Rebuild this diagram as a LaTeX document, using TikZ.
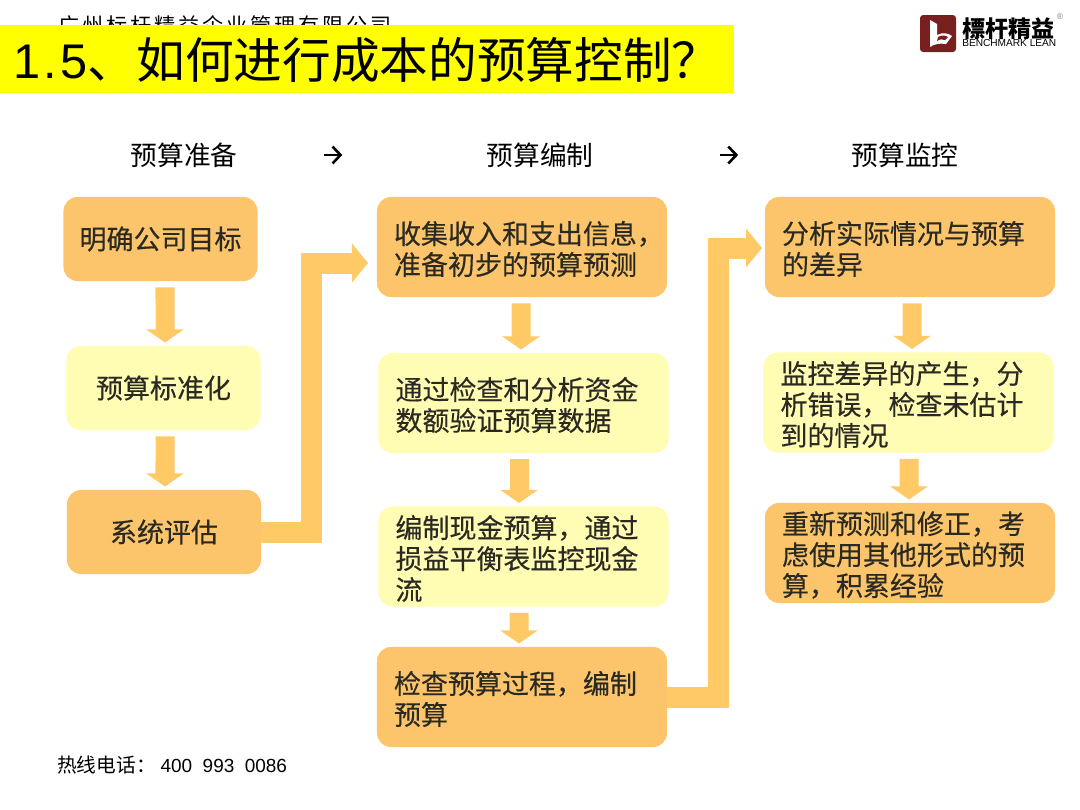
\documentclass[tikz,border=0pt]{standalone}
\usepackage{fontspec}
\usepackage{xcolor}
\usetikzlibrary{arrows.meta}
\setmainfont{Noto Sans CJK SC}
\newfontfamily\boxfont[FakeBold=0.3]{Noto Sans CJK SC}
\newfontfamily\spacedfont[LetterSpace=14]{Noto Sans CJK SC}
\newfontfamily\latinfont{Liberation Sans}
\definecolor{boxorange}{HTML}{FDC56B}
\definecolor{boxpale}{HTML}{FFFCB4}
\definecolor{arroworange}{HTML}{FFC966}
\definecolor{bandyellow}{HTML}{FFFF00}
\definecolor{logored}{HTML}{7A1F1F}
\definecolor{inktext}{HTML}{2B2A22}
\tikzset{
    flowbox/.style={rounded corners=0.35cm, inner sep=0pt, text=inktext, font=\boxfont\fontsize{19.2}{22}\selectfont, align=left},
    wide/.style={flowbox, minimum width=7.25cm, minimum height=2.5cm, text width=6.4cm, execute at end node=\vspace{-2.8pt}},
    narrow/.style={flowbox, minimum width=4.85cm, minimum height=2.1cm, align=center},
    headtext/.style={font=\fontsize{19}{22}\selectfont, text=black},
    headarrow/.style={draw=black, line width=0.065cm, -{Straight Barb[length=0.2cm, width=0.42cm]}},
    downarrow/.style={draw=arroworange, line width=0.475cm, -{Triangle[length=0.33cm, width=0.93cm]}, shorten <=0.15cm, shorten >=0.08cm},
    elbowarrow/.style={draw=arroworange, line width=0.525cm, line join=miter, -{Triangle[length=0.4cm, width=0.95cm]}},
}
\begin{document}
\begin{tikzpicture}[x=0.025cm, y=-0.025cm]
    \useasboundingbox (0,0) rectangle (1080,810);

    % header band
    \node[anchor=west, inner sep=0pt, font=\spacedfont\fontsize{15}{18}\selectfont] (company) at (58,25) {广州标杆精益企业管理有限公司};
    \fill[bandyellow] (0,25) rectangle (734,93);
    \node[anchor=west, inner sep=0pt, font=\fontsize{34.6}{36}\selectfont] (title) at (13,60) {{\latinfont 1\kern2.5pt.\kern2.5pt5}、如何进行成本的预算控制？};

    % logo
    \fill[logored, rounded corners=0.08cm] (920,15) rectangle (956,52);
    \fill[white] (930,20) -- (937,24) -- (937,35) .. controls (943,32) and (948,33) .. (952,36) -- (946,44) .. controls (940,43) and (934,44) .. (930,47) -- cycle;
    \fill[logored] (938,37) .. controls (942,35) and (945,35) .. (948,37) -- (945,40) .. controls (942,39) and (940,39) .. (937,41) -- cycle;
    \node[anchor=west, inner sep=0pt, font=\bfseries\fontsize{16.4}{18}\selectfont, text=black] (logocn) at (962,29) {標杆精益};
    \node[anchor=west, inner sep=0pt, font=\latinfont\fontsize{7.2}{8}\selectfont, text=black] (logoen) at (962,43.5) {BENCHMARK LEAN};
    \node[inner sep=0pt, font=\latinfont\fontsize{6}{6}\selectfont, text=gray] (logoreg) at (1060,17) {®};

    % column heads
    \node[headtext] (headprep) at (184,155) {预算准备};
    \node[headtext] (headedit) at (540,155) {预算编制};
    \node[headtext] (headmon) at (905,155) {预算监控};
    \draw[headarrow, shorten <=2.03cm, shorten >=3.48cm] (headprep) -- (headedit);
    \draw[headarrow, shorten <=3.03cm, shorten >=2.71cm] (headedit) -- (headmon);

    % left column
    \node[narrow, fill=boxorange] (goal) at (160.5,239) {明确公司目标};
    \node[narrow, fill=boxpale] (norm) at (163.5,388) {预算标准化};
    \node[narrow, fill=boxorange] (review) at (164,532) {系统评估};

    % middle column
    \node[wide, fill=boxorange] (collect) at (522,247) {收集收入和支出信息，\\准备初步的预算预测};
    \node[wide, fill=boxpale] (verify) at (523.5,403) {通过检查和分析资金\\数额验证预算数据};
    \node[wide, fill=boxpale] (cash) at (523.5,556.5) {编制现金预算，通过\\损益平衡表监控现金\\流};
    \node[wide, fill=boxorange] (check) at (522,697) {检查预算过程，编制\\预算};

    % right column
    \node[wide, fill=boxorange] (analyse) at (910,247) {分析实际情况与预算\\的差异};
    \node[wide, fill=boxpale] (watch) at (908.5,402.5) {监控差异的产生，分\\析错误，检查未估计\\到的情况};
    \node[wide, fill=boxorange] (redo) at (910,553) {重新预测和修正，考\\虑使用其他形式的预\\算，积累经验};

    % footer
    \node[anchor=west, inner sep=0pt, font=\fontsize{14}{16}\selectfont] (hotline) at (57,765) {热线电话：\kern3.5pt{\latinfont\fontsize{13.5}{16}\selectfont 400\kern7.4pt 993\kern7.4pt 0086}};

    % arrows down
    \draw[downarrow] ([xshift=3.2pt]goal.south) -- ([xshift=1.07pt]norm.north);
    \draw[downarrow] ([xshift=1.07pt]norm.south) -- ([xshift=0.71pt]review.north);
    \draw[downarrow] ([xshift=-0.71pt]collect.south) -- ([xshift=-1.78pt]verify.north);
    \draw[downarrow] ([xshift=-3.2pt]verify.south) -- ([xshift=-3.2pt]cash.north);
    \draw[downarrow] ([xshift=-3.2pt]cash.south) -- ([xshift=-2.13pt]check.north);
    \draw[downarrow] ([xshift=1.42pt]analyse.south) -- ([xshift=2.49pt]watch.north);
    \draw[downarrow] ([xshift=0.36pt]watch.south) -- ([xshift=-0.71pt]redo.north);

    % arrows across
    \coordinate (incollect) at (368,263);
    \coordinate (inanalyse) at (762,248);
    \draw[elbowarrow] (review.east) -- ++(50,0) |- (incollect);
    \draw[elbowarrow] (check.east) -- ++(51,0) |- (inanalyse);
\end{tikzpicture}
\end{document}
